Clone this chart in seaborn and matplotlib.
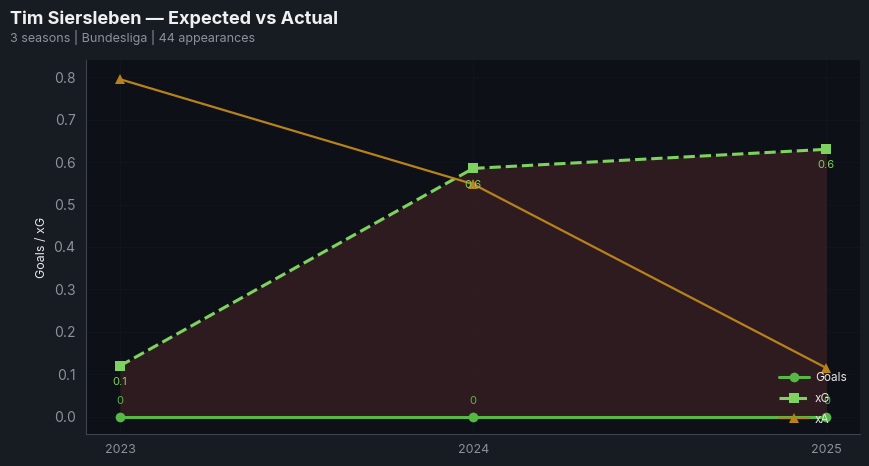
import matplotlib
matplotlib.use("Agg")
import matplotlib.pyplot as plt
import seaborn as sns
import pandas as pd

seasons = [2023, 2024, 2025]
goals = [0, 0, 0]
xg = [0.12, 0.585, 0.63]
xa = [0.795, 0.548, 0.115]

FIG_BG = "#171b22"
AX_BG = "#0d1117"
GOALS_C = "#56b946"
XG_C = "#7dd35e"
XA_C = "#b8821a"
TICK_C = "#8b929c"

sns.set_theme(style="dark")
plt.rcParams["font.family"] = ["Inter", "DejaVu Sans"]

df = pd.DataFrame({"season": seasons, "Goals": goals, "xG": xg, "xA": xa})

fig = plt.figure(figsize=(8.69, 4.66), dpi=100, facecolor=FIG_BG)
ax = fig.add_axes([0.099, 0.069, 0.891, 0.802])
ax.set_facecolor(AX_BG)

# shaded gap between goals and xG
ax.fill_between(df["season"], df["Goals"], df["xG"], color="#3a1f22", alpha=0.75, lw=0)

sns.lineplot(data=df, x="season", y="Goals", ax=ax, color=GOALS_C, lw=2.2,
             marker="o", markersize=7, markeredgewidth=0, label="Goals")
sns.lineplot(data=df, x="season", y="xG", ax=ax, color=XG_C, lw=2.2, ls="--",
             marker="s", markersize=7, markeredgewidth=0, label="xG")
sns.lineplot(data=df, x="season", y="xA", ax=ax, color=XA_C, lw=1.6,
             marker="^", markersize=7, markeredgewidth=0, label="xA")

for s, g in zip(seasons, goals):
    ax.annotate(f"{g:g}", (s, g), xytext=(0, 8), textcoords="offset points",
                ha="center", va="bottom", fontsize=8, color=GOALS_C)
for s, v in zip(seasons, xg):
    ax.annotate(f"{v:.1f}", (s, v), xytext=(0, -8), textcoords="offset points",
                ha="center", va="top", fontsize=8, color=XG_C)

ax.set_xticks(seasons)
ax.set_xticklabels([str(s) for s in seasons])
ax.set_xlim(2022.904, 2025.096)
ax.set_ylim(-0.04, 0.84)
ax.set_xlabel("")
ax.set_ylabel("Goals / xG", color="#e6e6e6", fontsize=9)
ax.tick_params(axis="both", colors=TICK_C, labelsize=10, length=4, width=0.8)
ax.tick_params(axis="x", labelsize=9)
ax.grid(True, color="#12161d", lw=0.5)
for side in ["top", "right"]:
    ax.spines[side].set_visible(False)
for side in ["left", "bottom"]:
    ax.spines[side].set_color("#3d434c")
    ax.spines[side].set_linewidth(0.8)

ax.legend(loc="lower right", frameon=False, fontsize=8.5, labelcolor="#e6e6e6",
          handlelength=2.5, handletextpad=0.5, labelspacing=0.75,
          borderaxespad=0.3, bbox_to_anchor=(0.993, 0.0))

fig.text(0.011, 0.959, "Tim Siersleben \u2014 Expected vs Actual", fontsize=13,
         fontweight="bold", color="#f0f0f0", va="center")
fig.text(0.011, 0.92, "3 seasons | Bundesliga | 44 appearances", fontsize=9,
         color="#8b929c", va="center")

fig.savefig("out.png", dpi=100, facecolor=FIG_BG)
